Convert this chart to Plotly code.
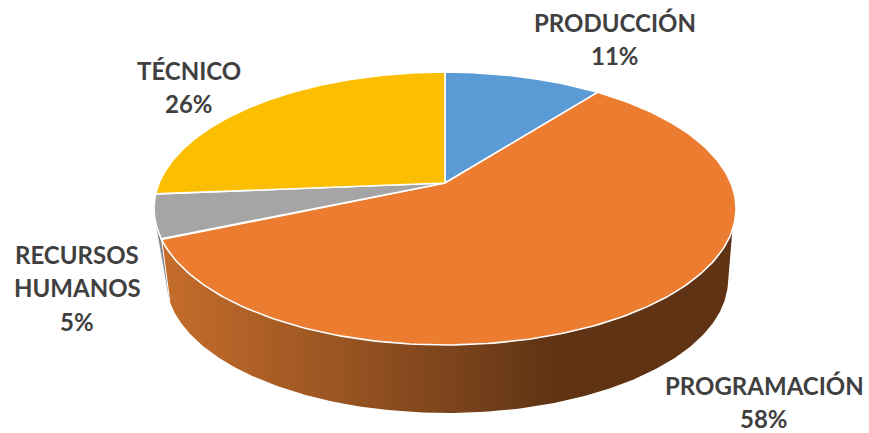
import numpy as np
import plotly.graph_objects as go

# Data
categories = ["PRODUCCIÓN", "PROGRAMACIÓN", "RECURSOS<br>HUMANOS", "TÉCNICO"]
values = [10.5, 58.0, 5.2, 26.3]
percent_labels = ["11%", "58%", "5%", "26%"]
colors = ["#5B9BD5", "#EC7C30", "#A5A5A5", "#FCBE00"]
label_x = [615, 764, 77, 189]
label_y = [22, 385, 254, 70]

W, H = 869, 433
CX, CY = 445, 183      # pie apex on screen
DX, DY, C = 285.9, 131.7, 0.187   # perspective of the top face
BX, BY, BRX, BRY = 447, 280, 281, 133  # bottom rim
LINE = 33.5


def top(theta):
    """Clockwise angle from 12 o'clock (radians) -> screen position on the top face."""
    u, v = np.sin(theta), np.cos(theta)
    w = 1 + C * v
    return CX + DX * u / w, CY - DY * v / w


def bottom(theta):
    return BX + BRX * np.sin(theta), BY - BRY * np.cos(theta)


fractions = np.array(values) / sum(values)
edges = np.concatenate([[0], np.cumsum(fractions)]) * 2 * np.pi

fig = go.Figure()

o1 = edges[2]
end_bottom = np.deg2rad(260.5)

# --- side wall: grey slice
th = np.linspace(o1, o1 + 0.09, 20)
xt, yt = top(th)
xb, yb = bottom(np.array([end_bottom]))
fig.add_trace(go.Scatter(
    x=np.r_[xt, xb], y=np.r_[yt, yb], mode="lines", fill="toself",
    fillcolor="#808080", line=dict(color="#808080", width=0.5), hoverinfo="skip"))

# --- side wall: orange slice with horizontal gradient
th_top = np.linspace(np.deg2rad(109.5), o1, 240)
th_bot = np.linspace(end_bottom, np.deg2rad(92), 240)
xt, yt = top(th_top)
xb, yb = bottom(th_bot)
fig.add_trace(go.Scatter(
    x=np.r_[xt, xb], y=np.r_[yt, yb], mode="lines", fill="toself",
    line=dict(width=0, color="rgba(0,0,0,0)"), hoverinfo="skip",
    fillgradient=dict(type="horizontal", colorscale=[
        [0, "#C66D2B"], [0.38, "#8F4F20"], [0.69, "#5F3314"], [1, "#5F3314"]])))

# white seam between the two walls
xo, yo = top(np.array([o1]))
xe, ye = bottom(np.array([end_bottom]))
fig.add_trace(go.Scatter(x=np.r_[xo, xe], y=np.r_[yo, ye], mode="lines",
                         line=dict(color="white", width=1), hoverinfo="skip"))

# --- top face slices
for i, col in enumerate(colors):
    th = np.linspace(edges[i], edges[i + 1], 200)
    xs, ys = top(th)
    fig.add_trace(go.Scatter(
        x=np.r_[CX, xs, CX], y=np.r_[CY, ys, CY], mode="lines", fill="toself",
        fillcolor=col, line=dict(color="white", width=1.6), hoverinfo="skip"))

# --- labels, one annotation per line for the exact leading
for name, pct, lx, ly in zip(categories, percent_labels, label_x, label_y):
    for k, line in enumerate(name.split("<br>") + [pct]):
        fig.add_annotation(x=lx, y=ly + k * LINE, text=line, showarrow=False,
                           font=dict(family="Lato", size=24, color="#404040", weight="bold"),
                           align="center", xanchor="center", yanchor="middle")

fig.update_layout(
    width=W, height=H, autosize=False, showlegend=False,
    margin=dict(l=0, r=0, t=0, b=0),
    paper_bgcolor="white", plot_bgcolor="white",
    xaxis=dict(range=[0, W], visible=False, fixedrange=True),
    yaxis=dict(range=[H, 0], visible=False, fixedrange=True),
)
fig.write_html("out.html", config={"displayModeBar": False},
               post_script="document.body.style.margin='0';document.body.style.overflow='hidden';")
